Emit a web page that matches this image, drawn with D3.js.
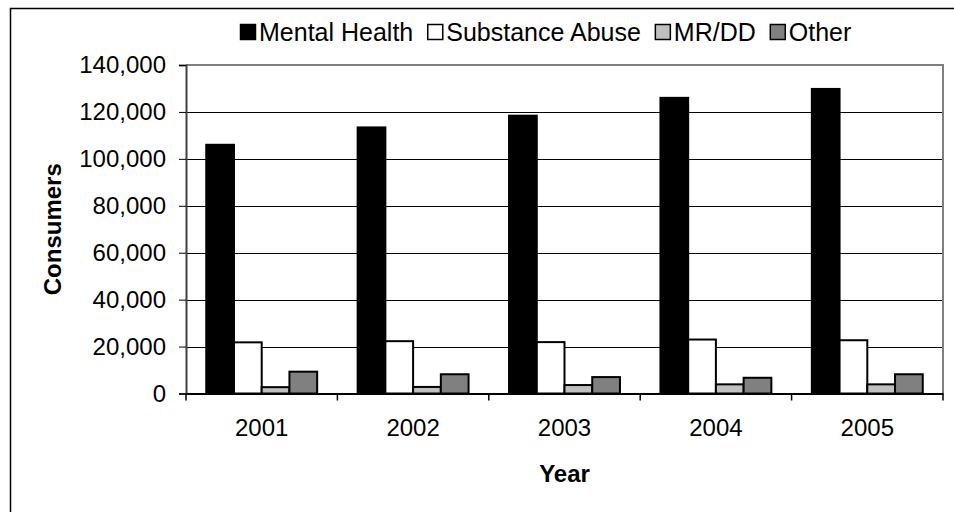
<!DOCTYPE html>
<html>
<head>
<meta charset="utf-8">
<script src="https://cdn.jsdelivr.net/npm/d3@7"></script>
<style>
  body { margin: 0; background: #fff; }
  svg text { font-family: "Liberation Sans", Arial, sans-serif; fill: #000; }
</style>
</head>
<body>
<div id="chart"></div>
<script>
// Data
const years = ["2001", "2002", "2003", "2004", "2005"]
const seriesNames = ["Mental Health", "Substance Abuse", "MR/DD", "Other"]
const mentalHealth = [106000, 113400, 118400, 126000, 129800]
const substanceAbuse = [21800, 22300, 21900, 23000, 22700]
const mrdd = [2700, 2800, 3600, 3900, 3900]
const other = [9300, 8200, 7000, 6700, 8200]
const yTicks = [0, 20000, 40000, 60000, 80000, 100000, 120000, 140000]
const seriesColors = ["#000000", "#ffffff", "#c0c0c0", "#808080"]

const seriesValues = [mentalHealth, substanceAbuse, mrdd, other]
const rows = years.map((yr, i) => ({
    year: yr,
    values: seriesNames.map((name, j) => ({ name, value: seriesValues[j][i] }))
}))

const dimensions = {
    width: 954,
    height: 512,
    margins: { top: 65, right: 11, bottom: 118.5, left: 186 }
}
dimensions.boundedWidth = dimensions.width - dimensions.margins.left - dimensions.margins.right
dimensions.boundedHeight = dimensions.height - dimensions.margins.top - dimensions.margins.bottom

const wrapper = d3.select("#chart").append("svg")
    .attr("width", dimensions.width)
    .attr("height", dimensions.height)

// outer chart border
wrapper.append("rect")
    .attr("x", 10.5)
    .attr("y", 8.5)
    .attr("width", 960)
    .attr("height", 520)
    .attr("fill", "none")
    .attr("stroke", "#000")
    .attr("stroke-width", 1.5)

const bounds = wrapper.append("g")
    .attr("transform", `translate(${dimensions.margins.left}, ${dimensions.margins.top})`)

// Scales
const yScale = d3.scaleLinear()
    .domain([0, 140000])
    .range([dimensions.boundedHeight, 0])

const x0 = d3.scaleBand()
    .domain(years)
    .range([0, dimensions.boundedWidth])
    .padding(0)

const x1 = d3.scaleBand()
    .domain(seriesNames)
    .range([0, x0.bandwidth()])
    .paddingInner(0)
    .paddingOuter(0.73)

const color = d3.scaleOrdinal()
    .domain(seriesNames)
    .range(seriesColors)

// Gridlines
bounds.append("g")
    .selectAll("line")
    .data(yTicks.filter(d => d > 0 && d < 140000))
    .enter().append("line")
        .attr("x1", 0)
        .attr("x2", dimensions.boundedWidth)
        .attr("y1", d => Math.round(yScale(d)) + 0.5)
        .attr("y2", d => Math.round(yScale(d)) + 0.5)
        .attr("stroke", "#000")
        .attr("stroke-width", 1)

// plot area border (top and right grey)
bounds.append("path")
    .attr("d", `M0,${yScale(140000)}H${dimensions.boundedWidth}V${dimensions.boundedHeight}`)
    .attr("fill", "none")
    .attr("stroke", "#808080")
    .attr("stroke-width", 2)

// Bars
const groups = bounds.selectAll(".group")
    .data(rows)
    .enter().append("g")
        .attr("class", "group")
        .attr("transform", d => `translate(${x0(d.year)}, 0)`)

groups.selectAll("rect")
    .data(d => d.values)
    .enter().append("rect")
        .attr("x", d => x1(d.name))
        .attr("y", d => yScale(d.value))
        .attr("width", x1.bandwidth())
        .attr("height", d => dimensions.boundedHeight - yScale(d.value))
        .attr("fill", d => color(d.name))
        .attr("stroke", "#000")
        .attr("stroke-width", 2)

// Y axis
const yAxis = d3.axisLeft(yScale)
    .tickValues(yTicks)
    .tickSize(7)
    .tickPadding(13)
    .tickFormat(d3.format(","))

const yAxisGroup = bounds.append("g").call(yAxis)
yAxisGroup.select(".domain").attr("stroke", "#404040").attr("stroke-width", 2)
yAxisGroup.selectAll(".tick line").attr("stroke", "#000")
yAxisGroup.selectAll("text")
    .style("font-size", "24px")
    .attr("fill", "#000")

// X axis
const xAxis = d3.axisBottom(x0)
    .tickSize(0)
    .tickPadding(25)

const xAxisGroup = bounds.append("g")
    .attr("transform", `translate(0, ${dimensions.boundedHeight})`)
    .call(xAxis)
xAxisGroup.select(".domain").attr("stroke", "#000").attr("stroke-width", 2)
xAxisGroup.selectAll("text")
    .style("font-size", "24px")
    .attr("fill", "#000")

// category separator ticks
xAxisGroup.append("g")
    .selectAll("line")
    .data(years.concat(["end"]))
    .enter().append("line")
        .attr("x1", (d, i) => i < years.length ? x0(d) : dimensions.boundedWidth)
        .attr("x2", (d, i) => i < years.length ? x0(d) : dimensions.boundedWidth)
        .attr("y1", 0)
        .attr("y2", 7)
        .attr("stroke", "#000")
        .attr("stroke-width", 1.5)

// Axis titles
wrapper.append("text")
    .attr("transform", `translate(61, ${dimensions.margins.top + dimensions.boundedHeight / 2}) rotate(-90)`)
    .attr("text-anchor", "middle")
    .style("font-size", "24px")
    .style("font-weight", "bold")
    .text("Consumers")

wrapper.append("text")
    .attr("x", dimensions.margins.left + dimensions.boundedWidth / 2)
    .attr("y", 482)
    .attr("text-anchor", "middle")
    .style("font-size", "24px")
    .style("font-weight", "bold")
    .text("Year")

// Legend
const legend = wrapper.append("g")
    .attr("transform", "translate(240, 0)")

let legendX = 0
seriesNames.forEach(name => {
    const item = legend.append("g")
        .attr("transform", `translate(${legendX}, 0)`)
    item.append("rect")
        .attr("x", 0.5)
        .attr("y", 24.5)
        .attr("width", 15)
        .attr("height", 15)
        .attr("fill", color(name))
        .attr("stroke", "#000")
        .attr("stroke-width", 1.5)
    const label = item.append("text")
        .attr("x", 19)
        .attr("y", 41)
        .style("font-size", "25px")
        .text(name)
    legendX += 19 + label.node().getComputedTextLength() + 14
})
</script>
</body>
</html>
